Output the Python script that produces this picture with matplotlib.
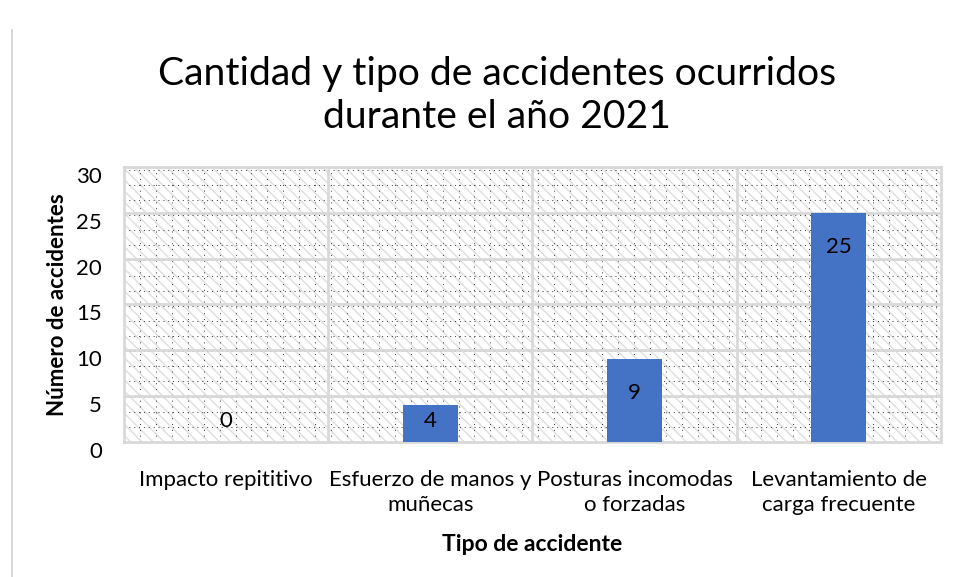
'''
Cantidad y tipo de accidentes ocurridos durante el año 2021 (bar chart).
'''

import matplotlib
matplotlib.use('Agg')
import matplotlib.pyplot as plt
from matplotlib.lines import Line2D
from matplotlib.patches import Rectangle
from matplotlib.transforms import ScaledTranslation

categorias = ['Impacto repititivo', 'Esfuerzo de manos y\nmuñecas',
              'Posturas incomodas\no forzadas', 'Levantamiento de\ncarga frecuente']
accidentes = [0, 4, 9, 25]
yticks = [0, 5, 10, 15, 20, 25, 30]

plt.rcParams['font.family'] = ['Lato', 'DejaVu Sans']
plt.rcParams['hatch.linewidth'] = 1.0

fig = plt.figure(figsize=(9.56, 5.77), dpi=100)
ax = fig.add_axes([0.1297, 0.234, 0.8546, 0.4766])

# patterned plot area background (diagonal stripes)
ax.add_patch(Rectangle((0, 0), 1, 1, transform=ax.transAxes, facecolor='white',
                       edgecolor='#dedede', lw=0, hatch='\\\\\\', zorder=0))

x = range(len(categorias))
ax.set_xlim(-0.5, len(categorias) - 0.5)
ax.set_ylim(0, 30)

# dotted fine grid
for yy in [i * 1.65 for i in range(1, 19)]:
    ax.axhline(yy, color='#333333', lw=0.7, ls=(0, (1, 4)), zorder=1)
for xx in [-0.5 + i * 0.078 for i in range(1, 52)]:
    ax.axvline(xx, color='#333333', lw=0.7, ls=(0, (1, 5)), zorder=1)

# major grid lines
for yy in yticks[1:]:
    ax.axhline(yy, color='#d9d9d9', lw=2, zorder=2)
for xx in [0.5, 1.5, 2.5]:
    ax.axvline(xx, color='#d9d9d9', lw=2, zorder=2)

ax.bar(x, accidentes, width=0.27, color='#4472c4', zorder=3)
for i, v in enumerate(accidentes):
    ax.text(i, max(v - 3.7, 2.3), str(v), ha='center', va='center',
            fontsize=16, color='black', zorder=4)

for s in ax.spines.values():
    s.set_color('#d9d9d9')
    s.set_linewidth(2)

ax.set_yticks(yticks)
ax.set_xticks(list(x))
ax.set_xticklabels(categorias, fontsize=16, linespacing=1.3)
ax.tick_params(axis='both', length=0)
ax.tick_params(axis='x', pad=20)
ax.tick_params(axis='y', labelsize=16, pad=16)
for lab in ax.get_yticklabels():
    lab.set_transform(lab.get_transform() + ScaledTranslation(0, -0.08, fig.dpi_scale_trans))

ax.set_ylabel('Número de accidentes', fontsize=16, fontweight='bold', labelpad=6)
ax.set_xlabel('Tipo de accidente', fontsize=16.5, fontweight='bold', labelpad=14)

fig.text(0.52, 0.835, 'Cantidad y tipo de accidentes ocurridos\ndurante el año 2021',
         ha='center', va='center', fontsize=28.2, color='black', linespacing=1.25)

# page margin line
fig.add_artist(Line2D([0.0125, 0.0125], [0.0, 0.948], color='#d0d0d0', lw=1.2))

fig.savefig('out.png', dpi=100)
plt.close()
